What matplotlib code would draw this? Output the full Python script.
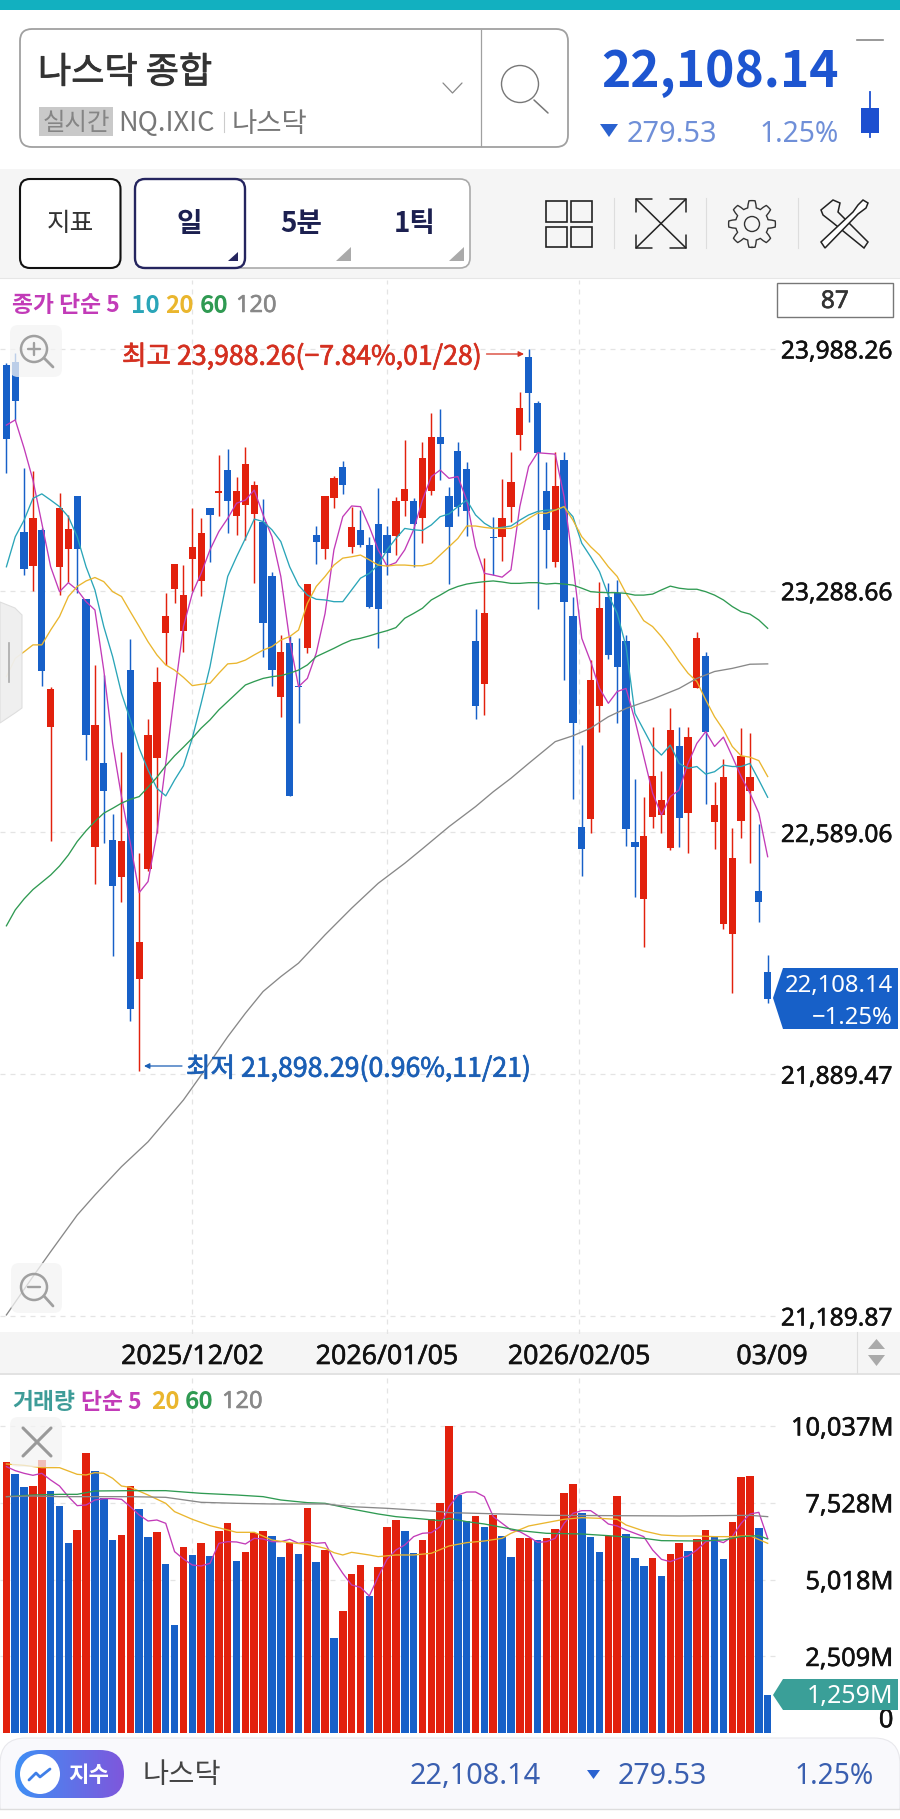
"""Recreates a Korean mobile trading screen with the NASDAQ daily candle chart."""

import matplotlib

matplotlib.use("Agg")

import matplotlib.pyplot as plt
import matplotlib.patheffects as path_effects
import numpy as np
from matplotlib.colors import LinearSegmentedColormap
from matplotlib.patches import Circle, FancyBboxPatch, Polygon, Rectangle

plt.rcParams["font.family"] = ["Noto Sans CJK KR", "DejaVu Sans"]

NUMBER_FONT = ["Noto Sans", "DejaVu Sans"]

OPENS = [
    23942, 23952, 23458, 23360, 23463, 22895, 23357, 23410, 23563, 23264,
    22548, 22789, 22566, 22461, 23058, 22164, 22484, 22806, 23166, 23293,
    23173, 23381, 23318, 23527, 23571, 23638, 23506, 23537, 23511, 23489,
    23330, 22982, 23137, 23013, 23122, 23450, 23410, 23556, 23646, 23416,
    23465, 23421, 23482, 23450, 23447, 23547, 23548, 23498, 23578, 23735,
    23564, 23694, 23640, 23143, 23019, 23445, 23443, 23532, 23738, 23964,
    23831, 23578, 23371, 23667, 23217, 22604, 22627, 22955, 23272, 23281,
    23143, 22561, 22397, 22633, 22640, 22543, 22840, 22645, 23006, 23101,
    22618, 22323, 22294, 22623, 22709, 22421, 22184,
]
HIGHS = [
    23947, 23976, 23643, 23636, 23469, 23009, 23571, 23508, 23563, 23264,
    23074, 23045, 22643, 22823, 23148, 22531, 22917, 23069, 23281, 23366,
    23363, 23527, 23500, 23527, 23682, 23699, 23617, 23706, 23606, 23554,
    23344, 23161, 23158, 23151, 23308, 23476, 23563, 23621, 23665, 23532,
    23522, 23445, 23587, 23476, 23559, 23725, 23556, 23720, 23804, 23814,
    23590, 23720, 23662, 23235, 23383, 23503, 23611, 23689, 23865, 23988.26,
    23839, 23662, 23689, 23689, 23270, 22842, 23088, 23313, 23310, 23320,
    23161, 22743, 22691, 22895, 22768, 22948, 22893, 22895, 23170, 23110,
    22736, 22801, 22601, 22891, 22876, 22614, 22235,
]
LOWS = [
    23630, 23783, 23334, 23289, 23013, 22565, 23276, 23315, 23281, 22799,
    22439, 22560, 22232, 22387, 22045, 21898.29, 22479, 22589, 23074, 23252,
    23112, 23289, 23274, 23373, 23505, 23457, 23450, 23436, 23310, 23096,
    23013, 22922, 22695, 22907, 23108, 23365, 23380, 23529, 23569, 23399,
    23416, 23238, 23122, 23334, 23392, 23505, 23357, 23428, 23566, 23609,
    23308, 23505, 23447, 22918, 22929, 23334, 23375, 23489, 23696, 23778,
    23235, 23354, 23358, 23029, 22687, 22463, 22589, 22881, 23090, 22905,
    22550, 22403, 22259, 22601, 22587, 22539, 22548, 22531, 23006, 22672,
    22540, 22309, 22126, 22572, 22502, 22329, 22097,
]
CLOSES = [
    23727, 23838, 23352, 23500, 23057, 23004, 23527, 23467, 23409, 22871,
    22900, 22710, 22434, 22565, 22079, 22273, 22871, 23026, 23216, 23366,
    23276, 23414, 23455, 23508, 23578, 23547, 23577, 23655, 23595, 23196,
    23059, 23111, 22695, 23009, 23308, 23431, 23563, 23614, 23595, 23474,
    23421, 23243, 23236, 23397, 23547, 23583, 23482, 23672, 23735, 23712,
    23474, 23532, 23518, 22956, 23225, 23441, 23500, 23602, 23817, 23860,
    23686, 23465, 23592, 23257, 22907, 22542, 23030, 23238, 23103, 23069,
    22599, 22548, 22579, 22753, 22683, 22886, 22630, 22864, 23153, 22879,
    22669, 22749, 22516, 22809, 22749, 22389, 22108.14,
]

PRICE_MA5 = [
    23768, 23783, 23701, 23609, 23484, 23358, 23286, 23312, 23291, 23257,
    23233, 23059, 22847, 22693, 22558, 22415, 22447, 22587, 22789, 22992,
    23185, 23281, 23339, 23407, 23460, 23498, 23542, 23551, 23580, 23508,
    23445, 23330, 23146, 23011, 23035, 23108, 23223, 23407, 23503, 23534,
    23532, 23474, 23407, 23360, 23370, 23407, 23465, 23551, 23619, 23638,
    23614, 23619, 23551, 23416, 23339, 23334, 23328, 23349, 23532, 23648,
    23688, 23686, 23684, 23561, 23368, 23151, 23084, 23006, 22963, 22997,
    23006, 22915, 22809, 22703, 22640, 22693, 22712, 22789, 22847, 22881,
    22838, 22865, 22809, 22751, 22703, 22645, 22519,
]
PRICE_MA10 = [
    23358, 23445, 23493, 23556, 23569, 23551, 23532, 23503, 23445, 23358,
    23291, 23185, 23098, 22992, 22915, 22833, 22770, 22717, 22695, 22741,
    22782, 22862, 22963, 23069, 23204, 23330, 23387, 23440, 23496, 23489,
    23465, 23431, 23358, 23305, 23276, 23264, 23262, 23257, 23257, 23291,
    23325, 23339, 23363, 23407, 23440, 23469, 23465, 23463, 23479, 23503,
    23511, 23532, 23551, 23508, 23484, 23469, 23472, 23476, 23493, 23508,
    23518, 23522, 23522, 23532, 23503, 23426, 23387, 23344, 23276, 23223,
    23127, 22934, 22886, 22838, 22813, 22842, 22789, 22775, 22780, 22758,
    22765, 22784, 22780, 22780, 22789, 22741, 22691,
]
PRICE_MA20 = [
    23040, 23093, 23112, 23132, 23132, 23175, 23214, 23272, 23301, 23317,
    23327, 23315, 23286, 23272, 23228, 23185, 23141, 23103, 23074, 23059,
    23038, 23014, 23018, 23021, 23050, 23077, 23079, 23088, 23103, 23117,
    23127, 23146, 23156, 23175, 23252, 23301, 23330, 23363, 23383, 23387,
    23392, 23378, 23363, 23360, 23363, 23363, 23361, 23361, 23368, 23392,
    23416, 23440, 23476, 23476, 23472, 23469, 23469, 23469, 23481, 23498,
    23513, 23513, 23522, 23532, 23493, 23445, 23416, 23392, 23358, 23330,
    23281, 23243, 23202, 23185, 23156, 23122, 23084, 23050, 23026, 22973,
    22924, 22886, 22838, 22811, 22807, 22797, 22751,
]
PRICE_MA60 = [
    22319, 22365, 22397, 22424, 22445, 22466, 22492, 22524, 22563, 22594,
    22621, 22645, 22659, 22674, 22685, 22693, 22720, 22749, 22782, 22811,
    22836, 22862, 22891, 22915, 22944, 22968, 22992, 23016, 23026, 23035,
    23040, 23043, 23050, 23059, 23074, 23098, 23110, 23122, 23135, 23146,
    23151, 23158, 23166, 23173, 23182, 23209, 23223, 23238, 23262, 23276,
    23291, 23301, 23308, 23312, 23315, 23317, 23314, 23310, 23310, 23312,
    23312, 23308, 23310, 23308, 23305, 23296, 23286, 23284, 23283, 23283,
    23281, 23276, 23276, 23279, 23291, 23302, 23296, 23293, 23293, 23286,
    23276, 23262, 23243, 23228, 23221, 23204, 23180,
]
PRICE_MA120_DAYS = [
    0, 3, 5, 8, 10, 13, 16, 20, 22, 25, 27, 29, 31, 33, 36, 39, 42, 45,
    47, 50, 53, 55, 57, 59, 62, 64, 66, 68, 70, 73, 76, 78, 80, 82, 84, 86,
]
PRICE_MA120 = [
    21193, 21304, 21376, 21482, 21540, 21622, 21694, 21815, 21887, 21998,
    22066, 22129, 22172, 22211, 22293, 22370, 22442, 22500, 22542, 22606,
    22664, 22707, 22746, 22789, 22852, 22869, 22891, 22924, 22948, 22975,
    23006, 23035, 23055, 23064, 23076, 23077,
]

VOLUMES = [
    8872, 8469, 8034, 8077, 8927, 7925, 7435, 6205, 6640, 9144,
    8578, 7675, 6314, 6477, 8077, 7315, 6423, 6586, 5530, 3538,
    6096, 5824, 6216, 5791, 6619, 6858, 5628, 5933, 6553, 6619,
    6455, 5770, 6216, 5857, 7359, 5606, 5987, 3124, 4006, 5204,
    5497, 4485, 5421, 6749, 6967, 6619, 5900, 6314, 6989, 7511,
    10037, 7783, 6934, 7109, 6749, 7130, 6455, 5770, 6368, 6390,
    6314, 6390, 6662, 7838, 8132, 7207, 6423, 5933, 6445, 7751,
    6510, 5715, 5476, 5737, 5138, 5868, 6216, 5955, 6347, 6640,
    6455, 5682, 6913, 8360, 8415, 6695, 1259,
]
VOLUME_DIRECTIONS = (
    "rbbrrbbbrr" "bbbrrbbrbb" "rbrbrrbrrr" "bbrbrbrbrr" "rbrrrbbrrr"
    "rbbrbrbbrr" "brrrrbbbrr" "bbbrbrrbrr" "bbrrrbb"
)
VOLUME_MA5 = [
    8709, 8578, 8491, 8426, 8491, 8273, 8077, 7729, 7435, 7457,
    7620, 7664, 7664, 7642, 7402, 7130, 6934, 6967, 6858, 5933,
    5693, 5497, 5465, 5552, 6205, 6259, 6249, 6183, 6368, 6347,
    6259, 6259, 6336, 6205, 6259, 6205, 6227, 5661, 5225, 4844,
    4768, 4485, 5116, 5682, 5987, 6151, 6423, 6532, 6553, 6749,
    7402, 7783, 7881, 7881, 7729, 7076, 6858, 6640, 6586, 6423,
    6238, 6259, 6368, 6858, 7185, 7272, 7272, 7076, 6836, 6771,
    6640, 6532, 6423, 5987, 5682, 5606, 5715, 5791, 5987, 6259,
    6314, 6227, 6423, 6858, 7163, 7217, 6368,
]
VOLUME_MA20_DAYS = [
    0, 2, 4, 6, 8, 9, 10, 11, 12, 13, 14, 16, 18, 19, 21, 23, 25, 26, 28,
    30, 32, 34, 36, 37, 38, 39, 41, 42, 44, 46, 48, 50, 52, 54, 56, 57,
    59, 61, 63, 65, 67, 69, 70, 72, 74, 76, 78, 80, 82, 84, 86,
]
VOLUME_MA20 = [
    8796, 8752, 8676, 8676, 8458, 8437, 8513, 8491, 8328, 8077, 8034, 7783,
    7511, 7239, 6989, 6782, 6640, 6564, 6564, 6314, 6227, 6172, 6042, 5900,
    5824, 5911, 5824, 5770, 5824, 5824, 5879, 6118, 6227, 6281, 6368, 6532,
    6771, 6880, 6989, 7043, 7021, 6989, 6804, 6608, 6477, 6445, 6445, 6423,
    6423, 6455, 6205,
]
VOLUME_MA60_DAYS = [
    0, 3, 6, 8, 10, 14, 18, 22, 26, 29, 31, 34, 36, 39, 42, 44, 47, 49,
    50, 52, 54, 56, 58, 61, 65, 68, 72, 74, 78, 81, 83, 85, 86,
]
VOLUME_MA60 = [
    7729, 7783, 7805, 7805, 7914, 7925, 7925, 7838, 7783, 7729, 7620, 7533,
    7511, 7326, 7163, 7076, 7000, 6945, 7021, 6913, 6836, 6728, 6619, 6532,
    6510, 6455, 6368, 6292, 6281, 6314, 6423, 6455, 6347,
]
VOLUME_MA120_DAYS = [
    0, 3, 6, 10, 14, 18, 22, 26, 30, 36, 39, 43, 46, 49, 50, 56, 61, 68,
    76, 84, 86,
]
VOLUME_MA120 = [
    7729, 7751, 7729, 7729, 7729, 7707, 7544, 7511, 7490, 7490, 7402, 7348,
    7294, 7239, 7207, 7163, 7119, 7109, 7098, 7119, 7076,
]

PRICE_TICKS = [23988.26, 23288.66, 22589.06, 21889.47, 21189.87]
VOLUME_TICKS = [10037, 7528, 5018, 2509, 0]
DATE_TICKS = [21, 43, 64.7, 86.5]
DATE_LABELS = ["2025/12/02", "2026/01/05", "2026/02/05", "03/09"]

RED = "#e2210d"
BLUE = "#1760c8"
MAGENTA = "#c23bb8"
TEAL = "#2aa5b8"
YELLOW = "#eab62e"
GREEN = "#2f9a52"
GRAY = "#888888"
GRID = "#e4e4e4"
GRID_DASH = (0, (4, 4))

FIG_WIDTH = 900
FIG_HEIGHT = 1819
CHART_RIGHT = 776
CANDLE_STEP = 8.852
CANDLE_ORIGIN = 6.4


def thicken(text, color, width=0.45):
  """Gives regular glyphs a medium weight, which the fonts do not offer."""
  text.set_path_effects(
      [path_effects.withStroke(linewidth=width, foreground=color)]
  )


def axes_rect(top, bottom):
  """Returns a figure rectangle for a panel between two pixel rows."""
  return [
      0.0,
      1.0 - bottom / FIG_HEIGHT,
      CHART_RIGHT / FIG_WIDTH,
      (bottom - top) / FIG_HEIGHT,
  ]


def style_panel(axis):
  """Applies the shared transparent panel look with dashed grid lines."""
  axis.patch.set_alpha(0.0)
  for spine in axis.spines.values():
    spine.set_visible(False)
  axis.set_xlim(
      -CANDLE_ORIGIN / CANDLE_STEP,
      (CHART_RIGHT - CANDLE_ORIGIN) / CANDLE_STEP,
  )
  axis.set_xticks(DATE_TICKS)
  axis.yaxis.tick_right()
  axis.tick_params(length=0)
  axis.grid(True, color=GRID, linestyle=GRID_DASH, linewidth=0.9)
  axis.set_axisbelow(True)
  axis.get_xgridlines()[-1].set_visible(False)
  axis.tick_params(axis="y", pad=3.5)


def draw_price_panel(figure):
  """Draws candles, moving averages and the price and date axes."""
  axis = figure.add_axes(axes_rect(280, 1334), zorder=2)
  style_panel(axis)
  days = np.arange(len(CLOSES))
  opens = np.array(OPENS)
  closes = np.array(CLOSES)
  colors = [RED if up else BLUE for up in closes >= opens]
  axis.vlines(days, LOWS, HIGHS, colors=colors, linewidth=1.05, zorder=2)
  axis.bar(
      days,
      np.maximum(np.abs(closes - opens), 4),
      bottom=np.minimum(opens, closes),
      width=0.82,
      color=colors,
      linewidth=0,
      zorder=2.5,
  )
  axis.plot(days, PRICE_MA5, color=MAGENTA, linewidth=0.95, zorder=3)
  axis.plot(days, PRICE_MA10, color=TEAL, linewidth=0.95, zorder=3)
  axis.plot(days, PRICE_MA20, color=YELLOW, linewidth=0.95, zorder=3)
  axis.plot(days, PRICE_MA60, color=GREEN, linewidth=0.95, zorder=3)
  axis.plot(
      PRICE_MA120_DAYS, PRICE_MA120, color=GRAY, linewidth=0.95, zorder=3
  )
  axis.set_ylim(21137.8, 24187.9)
  axis.set_yticks(PRICE_TICKS)
  axis.set_yticklabels(
      [f"{tick:,.2f}" for tick in PRICE_TICKS],
      family=NUMBER_FONT,
      fontsize=17.7,
      color="#111111",
  )
  axis.set_xticklabels(
      DATE_LABELS, family=NUMBER_FONT, fontsize=19.3, color="#111111"
  )
  axis.tick_params(axis="x", pad=6.5)
  for text in axis.get_xticklabels() + axis.get_yticklabels():
    thicken(text, "#111111", 0.35)


def draw_volume_panel(figure):
  """Draws the volume bars, their averages and the volume axis."""
  axis = figure.add_axes(axes_rect(1374, 1733.3), zorder=2)
  style_panel(axis)
  days = np.arange(len(VOLUMES))
  colors = [RED if mark == "r" else BLUE for mark in VOLUME_DIRECTIONS]
  axis.bar(days, VOLUMES, width=0.85, color=colors, linewidth=0, zorder=2)
  axis.plot(days, VOLUME_MA5, color=MAGENTA, linewidth=0.95, zorder=3)
  axis.plot(
      VOLUME_MA20_DAYS, VOLUME_MA20, color=YELLOW, linewidth=0.95, zorder=3
  )
  axis.plot(
      VOLUME_MA60_DAYS, VOLUME_MA60, color=GREEN, linewidth=0.95, zorder=3
  )
  axis.plot(
      VOLUME_MA120_DAYS, VOLUME_MA120, color=GRAY, linewidth=0.95, zorder=3
  )
  axis.set_ylim(0, 11735)
  axis.set_yticks(VOLUME_TICKS)
  axis.set_yticklabels(
      [f"{tick:,}M" if tick else "0" for tick in VOLUME_TICKS],
      family=NUMBER_FONT,
      fontsize=18.3,
      color="#111111",
      ha="right",
  )
  axis.tick_params(axis="y", pad=84.5)
  axis.get_yticklabels()[-1].set_verticalalignment("bottom")
  for text in axis.get_yticklabels():
    thicken(text, "#111111", 0.35)
  axis.set_xticklabels([])


def rounded(layer, x0, y0, x1, y1, radius, **style):
  """Adds a rounded rectangle given by pixel corners."""
  patch = FancyBboxPatch(
      (x0, y0),
      x1 - x0,
      y1 - y0,
      boxstyle=f"round,pad=0,rounding_size={radius}",
      **style,
  )
  layer.add_patch(patch)
  return patch


def polyline(layer, points, color, width=1.1):
  """Adds an open pixel polyline with round ends."""
  xs, ys = zip(*points)
  layer.plot(
      xs, ys, color=color, linewidth=width, solid_capstyle="round",
      solid_joinstyle="round",
  )


def label(layer, x, y, text, size, color, ha="left", stroke=0.0, **style):
  """Adds vertically centred text at a pixel position."""
  artist = layer.text(
      x, y, text, fontsize=size, color=color, ha=ha, va="center", **style
  )
  if stroke:
    thicken(artist, color, stroke)


def draw_back_layer(layer):
  """Draws the bands that sit behind the chart panels."""
  layer.add_patch(Rectangle((0, 0), 900, 10, color="#12b0c0", linewidth=0))
  layer.add_patch(Rectangle((0, 169), 900, 109, color="#f5f5f5", linewidth=0))
  layer.add_patch(Rectangle((0, 1332), 900, 41, color="#f5f5f5", linewidth=0))
  layer.plot([0, 900], [1373.5, 1373.5], color="#dddddd", linewidth=1.2)
  layer.plot([0, 900], [278.5, 278.5], color="#e6e6e6", linewidth=0.8)
  layer.plot([856.5, 856.5], [1332, 1373], color="#dddddd", linewidth=0.8)
  layer.add_patch(Polygon(
      [(868, 1349), (885, 1349), (876.5, 1339)], color="#aaaaaa", linewidth=0
  ))
  layer.add_patch(Polygon(
      [(868, 1355), (885, 1355), (876.5, 1366)], color="#aaaaaa", linewidth=0
  ))
  rounded(
      layer, 0, 1738, 900, 1830, 26, facecolor="#f9f9fc",
      edgecolor="#e8e8ec", linewidth=0.8,
  )
  layer.add_patch(Rectangle((0, 1809), 900, 10, color="white", linewidth=0))
  layer.plot([0, 900], [1809, 1809], color="#dddddd", linewidth=1.0)


def draw_header(layer):
  """Draws the search box, quote block and toolbar."""
  rounded(
      layer, 20, 29, 568, 147, 12, facecolor="white", edgecolor="#a0a0a0",
      linewidth=1.3,
  )
  layer.plot([480.5, 480.5], [30, 146], color="#a0a0a0", linewidth=0.9)
  label(layer, 38, 73, "나스닥 종합", 26, "#333333", stroke=0.6)
  layer.add_patch(Rectangle((38.5, 107), 74.5, 29, color="#c9c9c9", linewidth=0))
  label(layer, 76, 123, "실시간", 17.6, "#858585", ha="center")
  label(layer, 118, 124, "NQ.IXIC", 19.6, "#777777")
  layer.plot([224, 224], [112, 132], color="#cccccc", linewidth=0.8)
  label(layer, 232, 124, "나스닥", 19.8, "#777777")
  polyline(layer, [(443, 83), (452.5, 93), (462, 83)], "#888888", 0.9)
  layer.add_patch(Circle(
      (520, 84), 18.5, fill=False, edgecolor="#777777", linewidth=1.0
  ))
  polyline(layer, [(534, 100), (548, 113)], "#777777", 1.1)

  label(layer, 601, 72, "22,108.14", 35.8, "#1d55d0", weight="bold")
  layer.add_patch(Polygon(
      [(600, 124), (618, 124), (609, 137)], color="#2a62d0", linewidth=0
  ))
  label(layer, 627, 134, "279.53", 20.8, "#6f8fd8", family=NUMBER_FONT)
  label(layer, 839, 134, "1.25%", 20.3, "#6f8fd8", ha="right", family=NUMBER_FONT)
  layer.plot([857, 883], [40, 40], color="#888888", linewidth=1.2)
  layer.plot([870, 870], [92, 137], color="#1c4fd0", linewidth=1.3)
  layer.add_patch(Rectangle((861, 108), 18, 25, color="#1c4fd0", linewidth=0))

  rounded(
      layer, 20, 179, 120.5, 268, 10, facecolor="white", edgecolor="#111111",
      linewidth=1.5,
  )
  label(layer, 70, 224, "지표", 18.5, "#333333", ha="center")
  rounded(
      layer, 135, 179, 470, 268, 10, facecolor="white", edgecolor="#aaaaaa",
      linewidth=1.2,
  )
  rounded(
      layer, 135, 179, 245, 268, 10, facecolor="white", edgecolor="#25255f",
      linewidth=1.7,
  )
  label(layer, 189.5, 224, "일", 20, "#1c2050", ha="center", weight="bold")
  label(layer, 301, 224, "5분", 20, "#1c2050", ha="center", weight="bold")
  label(layer, 414.5, 224, "1틱", 20, "#1c2050", ha="center", weight="bold")
  layer.add_patch(Polygon(
      [(228, 261), (238, 261), (238, 252)], color="#25255f", linewidth=0
  ))
  for left in (336, 449):
    layer.add_patch(Polygon(
        [(left, 261), (left + 15, 261), (left + 15, 247)],
        color="#aaaaaa",
        linewidth=0,
    ))

  for left, right in ((546, 567), (571, 592)):
    for top, bottom in ((201, 222), (227, 247)):
      layer.add_patch(Rectangle(
          (left, top), right - left, bottom - top, fill=False,
          edgecolor="#222222", linewidth=1.2,
      ))
  for x in (614, 706, 798):
    layer.plot([x, x], [198, 248], color="#dddddd", linewidth=0.8)

  polyline(layer, [(636, 199), (686, 248)], "#222222", 1.1)
  polyline(layer, [(686, 199), (636, 248)], "#222222", 1.1)
  polyline(layer, [(636, 212), (636, 199), (652, 199)], "#222222", 1.1)
  polyline(layer, [(670, 199), (686, 199), (686, 212)], "#222222", 1.1)
  polyline(layer, [(636, 235), (636, 248), (652, 248)], "#222222", 1.1)
  polyline(layer, [(670, 248), (686, 248), (686, 235)], "#222222", 1.1)

  angles = np.linspace(0, 2 * np.pi, 97)
  radii = 20 + 3.4 * np.clip(4 * np.cos(8 * angles), -1, 1)
  layer.plot(
      752 + radii * np.sin(angles), 224 + radii * np.cos(angles),
      color="#333333", linewidth=1.0,
  )
  layer.add_patch(Circle(
      (752, 224), 7.5, fill=False, edgecolor="#333333", linewidth=1.0
  ))

  layer.add_patch(Polygon(
      [(823, 215), (832, 222), (864, 248), (868, 242), (838, 212), (840, 203),
       (833, 200), (821, 210)],
      fill=False, edgecolor="#222222", linewidth=1.1,
  ))
  layer.add_patch(Polygon(
      [(821, 242), (825, 248), (858, 214), (866, 208), (868, 203), (863, 200),
       (858, 205), (853, 212)],
      facecolor="white", edgecolor="#222222", linewidth=1.1,
  ))


def draw_overlay(layer):
  """Draws legends, markers, badges and the footer above the panels."""
  rounded(layer, 10, 325, 62, 377, 8, facecolor="#f4f4f4", edgecolor="none", alpha=0.75)
  rounded(layer, 11, 1263, 62, 1313, 8, facecolor="#f4f4f4", edgecolor="none", alpha=0.75)
  rounded(layer, 10, 1417, 62, 1467, 8, facecolor="#f4f4f4", edgecolor="none", alpha=0.75)
  for center_y, handle_y in ((349, 367), (1287, 1306)):
    layer.add_patch(Circle(
        (34, center_y), 13, fill=False, edgecolor="#a0a0a0", linewidth=1.8
    ))
    polyline(layer, [(44, center_y + 9), (53, handle_y)], "#a0a0a0", 2.0)
    polyline(
        layer, [(28, center_y), (40, center_y)], "#a0a0a0", 1.7
    )
  polyline(layer, [(34, 343), (34, 355)], "#a0a0a0", 1.7)
  polyline(layer, [(23, 1428), (51, 1456)], "#999999", 2.2)
  polyline(layer, [(51, 1428), (23, 1456)], "#999999", 2.2)

  layer.add_patch(Polygon(
      [(0, 602), (15, 608), (22, 615), (22, 708), (15, 713), (0, 723)],
      facecolor="#efefef", edgecolor="#dddddd", linewidth=0.8, alpha=0.95,
  ))
  layer.plot([9, 9], [643, 682], color="#aaaaaa", linewidth=1.2)

  label(layer, 12, 306, "종가 단순 5", 16.4, MAGENTA, weight="bold")
  label(layer, 131, 306, "10", 17.5, TEAL, weight="bold")
  label(layer, 165, 306, "20", 17.5, YELLOW, weight="bold")
  label(layer, 200, 306, "60", 17.5, GREEN, weight="bold")
  label(layer, 236, 306, "120", 17, GRAY, stroke=0.4, family=NUMBER_FONT)
  label(layer, 12, 1402, "거래량", 16.4, "#3e9c98", weight="bold")
  label(layer, 81, 1402, "단순 5", 16.4, MAGENTA, weight="bold")
  label(layer, 151, 1402, "20", 17.5, YELLOW, weight="bold")
  label(layer, 185, 1402, "60", 17.5, GREEN, weight="bold")
  label(layer, 222, 1402, "120", 17, GRAY, stroke=0.4, family=NUMBER_FONT)

  label(
      layer, 122, 357, "최고 23,988.26(−7.84%,01/28)", 19.2, "#d43020",
      stroke=0.5,
  )
  layer.annotate(
      "", xy=(524, 354), xytext=(486.5, 354),
      arrowprops=dict(arrowstyle="-|>", color="#d43020", linewidth=0.9,
                      mutation_scale=8, shrinkA=0, shrinkB=0),
  )
  label(
      layer, 186, 1069, "최저 21,898.29(0.96%,11/21)", 19.2, "#1b5fb5",
      stroke=0.5,
  )
  layer.annotate(
      "", xy=(144, 1066), xytext=(182, 1066),
      arrowprops=dict(arrowstyle="-|>", color="#1b5fb5", linewidth=0.9,
                      mutation_scale=8, shrinkA=0, shrinkB=0),
  )

  layer.add_patch(Rectangle(
      (777, 283), 116, 34, facecolor="white", edgecolor="#777777", linewidth=1.0
  ))
  label(
      layer, 835, 302, "87", 17.6, "#333333", ha="center", stroke=0.4,
      family=NUMBER_FONT,
  )

  layer.add_patch(Polygon(
      [(773, 998), (783, 968), (898, 968), (898, 1029), (783, 1029)],
      color=BLUE, linewidth=0,
  ))
  label(layer, 893, 986, "22,108.14", 17.2, "white", ha="right", family=NUMBER_FONT)
  label(layer, 893, 1018, "−1.25%", 17.2, "white", ha="right", family=NUMBER_FONT)
  layer.add_patch(Polygon(
      [(773, 1695), (783, 1679), (898, 1679), (898, 1710), (783, 1710)],
      color="#3a9f98", linewidth=0,
  ))
  label(layer, 893, 1696, "1,259M", 18, "white", ha="right", family=NUMBER_FONT)

  pill = rounded(
      layer, 15, 1750, 124, 1798, 24, facecolor="none", edgecolor="none"
  )
  gradient = LinearSegmentedColormap.from_list(
      "pill", ["#3f8ff5", "#7e57dc"]
  )
  image = layer.imshow(
      np.linspace(0, 1, 200)[None, :], cmap=gradient,
      extent=(15, 124, 1798, 1750), aspect="auto",
  )
  image.set_clip_path(pill)
  layer.set_xlim(0, FIG_WIDTH)
  layer.set_ylim(FIG_HEIGHT, 0)
  layer.add_patch(Circle((40, 1774), 20, color="white", linewidth=0))
  polyline(
      layer, [(29, 1780), (36, 1773), (40, 1777), (50, 1769)], "#3f7fe8", 2.0
  )
  label(layer, 89, 1775, "지수", 16, "white", ha="center", weight="bold")
  label(layer, 143, 1775, "나스닥", 20.5, "#444444")
  label(layer, 541, 1776, "22,108.14", 20.8, "#3a5fb0", ha="right", family=NUMBER_FONT)
  layer.add_patch(Polygon(
      [(587, 1770), (600, 1770), (593.5, 1779)], color="#2a62d0", linewidth=0
  ))
  label(layer, 618, 1776, "279.53", 20.6, "#3a5fb0", family=NUMBER_FONT)
  label(layer, 874, 1776, "1.25%", 20.3, "#3a5fb0", ha="right", family=NUMBER_FONT)


def pixel_layer(figure, zorder):
  """Returns a full-figure axes that is addressed in image pixels."""
  layer = figure.add_axes([0, 0, 1, 1], zorder=zorder)
  layer.set_xlim(0, FIG_WIDTH)
  layer.set_ylim(FIG_HEIGHT, 0)
  layer.axis("off")
  return layer


def main():
  figure = plt.figure(figsize=(FIG_WIDTH / 100, FIG_HEIGHT / 100), dpi=100)
  back_layer = pixel_layer(figure, 1)
  front_layer = pixel_layer(figure, 5)
  draw_back_layer(back_layer)
  draw_price_panel(figure)
  draw_volume_panel(figure)
  draw_header(back_layer)
  draw_overlay(front_layer)
  figure.savefig("out.png", dpi=100)


if __name__ == "__main__":
  main()
